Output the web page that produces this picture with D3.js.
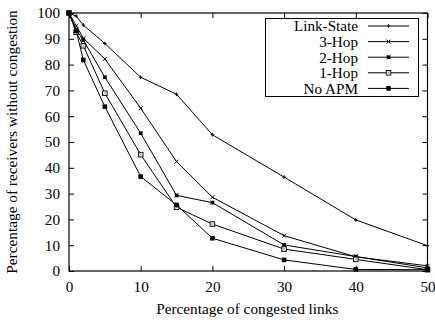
<!DOCTYPE html>
<html>
<head>
<meta charset="utf-8">
<script src="https://cdn.jsdelivr.net/npm/d3@7"></script>
<style>
  body { margin: 0; background: #fff; }
</style>
</head>
<body>
<svg width="435" height="322"></svg>
<script>
const xValues = [0, 1, 2, 5, 10, 15, 20, 30, 40, 50];
const seriesNames = ['Link-State', '3-Hop', '2-Hop', '1-Hop', 'No APM'];
const linkState = [100, 98.8, 95.3, 88.2, 75.1, 68.5, 52.8, 36.4, 19.8, 9.8];
const hop3 = [100, 95.1, 90.2, 82.2, 63.1, 42.4, 28.6, 13.7, 5.5, 2.0];
const hop2 = [100, 93.5, 89.5, 75.1, 53.4, 29.3, 26.5, 10.1, 5.6, 1.2];
const hop1 = [100, 92.5, 87.3, 68.9, 45.1, 24.7, 18.2, 8.5, 4.5, 0.5];
const noApm = [100, 93.1, 81.8, 63.7, 36.6, 25.6, 12.7, 4.3, 0.6, 0.5];
const xTicks = [0, 10, 20, 30, 40, 50];
const yTicks = [0, 10, 20, 30, 40, 50, 60, 70, 80, 90, 100];

const FONT = '"Liberation Serif", "DejaVu Serif", serif';

const series = [linkState, hop3, hop2, hop1, noApm].map((vals, i) => ({
  name: seriesNames[i],
  marker: ['plus', 'cross', 'smallsq', 'opensq', 'fillsq'][i],
  points: vals.map((v, j) => ({x: xValues[j], y: v}))
}));

const svg = d3.select('svg');
const margin = {left: 69, right: 7.5, top: 13, bottom: 51};
const width = 435, height = 322;

const x = d3.scaleLinear().domain([0, 50]).range([margin.left, width - margin.right]);
const y = d3.scaleLinear().domain([0, 100]).range([height - margin.bottom, margin.top]);

const tickLen = 5;
const fontSize = 15.2;

// bottom & left axes (ticks inward)
svg.append('g').attr('transform', `translate(0,${y(0)})`)
  .call(d3.axisBottom(x).tickValues(xTicks).tickSizeInner(-tickLen).tickSizeOuter(0).tickPadding(10));
svg.append('g').attr('transform', `translate(${x(0)},0)`)
  .call(d3.axisLeft(y).tickValues(yTicks).tickSizeInner(-tickLen).tickSizeOuter(0).tickPadding(9));
// mirror ticks top & right
svg.append('g').attr('transform', `translate(0,${y(100)})`)
  .call(d3.axisTop(x).tickValues(xTicks).tickSizeInner(-tickLen).tickSizeOuter(0).tickFormat(''));
svg.append('g').attr('transform', `translate(${x(50)},0)`)
  .call(d3.axisRight(y).tickValues(yTicks).tickSizeInner(-tickLen).tickSizeOuter(0).tickFormat(''));

svg.selectAll('.domain').remove();
svg.selectAll('.tick line').attr('stroke', '#000');
svg.selectAll('g').attr('font-family', FONT);
svg.selectAll('.tick text')
  .attr('font-family', FONT)
  .attr('font-size', fontSize).attr('fill', '#000');

// frame
svg.append('rect')
  .attr('x', x(0)).attr('y', y(100))
  .attr('width', x(50) - x(0)).attr('height', y(0) - y(100))
  .attr('fill', 'none').attr('stroke', '#000').attr('stroke-width', 1.2);

// axis labels
svg.append('text')
  .attr('x', (x(0) + x(50)) / 2 - 1).attr('y', 314)
  .attr('text-anchor', 'middle').attr('font-size', 15.3).attr('font-family', FONT)
  .text('Percentage of congested links');
svg.append('text')
  .attr('transform', `translate(17,${(y(0) + y(100)) / 2}) rotate(-90)`)
  .attr('text-anchor', 'middle').attr('font-size', 15.3).attr('font-family', FONT)
  .text('Percentage of receivers without congestion');

// marker drawing
const drawMarker = (g, type) => {
  if (type === 'plus') {
    g.append('path').attr('d', 'M-1.8,0H1.8M0,-1.8V1.8').attr('stroke', '#000').attr('fill', 'none');
  } else if (type === 'cross') {
    g.append('path').attr('d', 'M-2,-2L2,2M-2,2L2,-2').attr('stroke', '#000').attr('fill', 'none');
  } else if (type === 'smallsq') {
    g.append('rect').attr('x', -1.8).attr('y', -1.8).attr('width', 3.6).attr('height', 3.6).attr('fill', '#000');
    g.append('path').attr('d', 'M-2.3,-2.3L2.3,2.3M-2.3,2.3L2.3,-2.3').attr('stroke', '#000').attr('stroke-width', 0.5);
  } else if (type === 'opensq') {
    g.append('rect').attr('x', -2.3).attr('y', -2.3).attr('width', 4.6).attr('height', 4.6)
      .attr('fill', '#fff').attr('stroke', '#000').attr('stroke-width', 0.9);
    g.append('path').attr('d', 'M-2,-2L2,2M-2,2L2,-2').attr('stroke', '#666').attr('stroke-width', 0.5);
  } else {
    g.append('rect').attr('x', -2.3).attr('y', -2.3).attr('width', 4.6).attr('height', 4.6).attr('fill', '#000');
  }
};

const line = d3.line().x(d => x(d.x)).y(d => y(d.y));

series.forEach(s => {
  svg.append('path')
    .datum(s.points)
    .attr('d', line)
    .attr('fill', 'none')
    .attr('stroke', '#000')
    .attr('stroke-width', 1);
  s.points.forEach(p => {
    const g = svg.append('g').attr('transform', `translate(${x(p.x)},${y(p.y)})`);
    drawMarker(g, s.marker);
  });
});

// legend
const legend = svg.append('g');
legend.append('rect')
  .attr('x', 265.5).attr('y', 18.5).attr('width', 153).attr('height', 78)
  .attr('fill', '#fff').attr('stroke', '#000').attr('stroke-width', 1);
series.forEach((s, i) => {
  const ly = 26 + i * 15.6;
  legend.append('text')
    .attr('x', 358).attr('y', ly).attr('dy', '0.35em')
    .attr('text-anchor', 'end').attr('font-size', fontSize).attr('font-family', FONT)
    .text(s.name);
  legend.append('line')
    .attr('x1', 368).attr('x2', 409).attr('y1', ly).attr('y2', ly)
    .attr('stroke', '#000');
  drawMarker(legend.append('g').attr('transform', `translate(388.5,${ly})`), s.marker);
});
</script>
</body>
</html>
